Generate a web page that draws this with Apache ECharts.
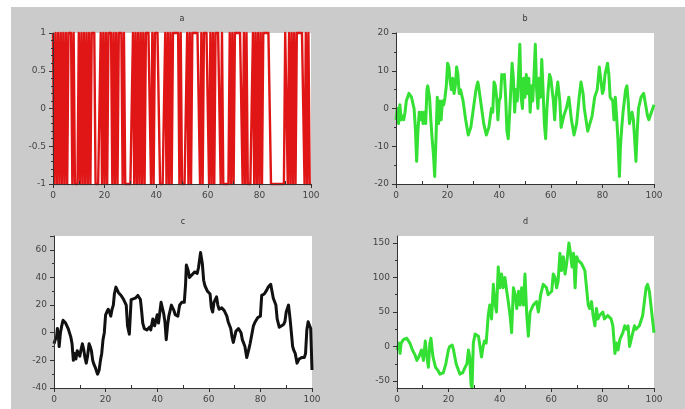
<!DOCTYPE html>
<html><head><meta charset="utf-8">
<script src="https://cdn.jsdelivr.net/npm/echarts@6/dist/echarts.min.js"></script>
<style>html,body{margin:0;padding:0;background:#fff}#c{width:685px;height:409px}</style>
</head><body><div id="c"></div>
<script>
// ---- data ----
const titles = ['a', 'b', 'c', 'd'];
const xTicks = [0, 20, 40, 60, 80, 100];
const dTicks = [-50, 0, 50, 100, 150];
const dMinorTicks = [-25, 25, 75, 125];

// series a: sampled every 0.5 from x = 0 to 100
const aStep = 0.5;
const aY = [
 1,-1,1,-1,1,-1,1,-1,1,-1,1,-1,
 1,1,1,-1,1,
 -1,-1,-1,
 1,-1,1,-1,1,-1,1,-1,1,-1,
 1,1,1,
 -1,-1,-1,-1,
 1,-1,1,-1,1,-1,
 1,1,1,
 -1,1,-1,1,-1,
 1,1,1,
 -1,1,-1,
 -1,-1,-1,-1,-1,
 1,-1,1,-1,1,-1,1,-1,1,-1,
 1,1,1,1,
 -1,1,-1,1,
 1,1,1,-1,-1,-1,-1,
 1,-1,1,-1,1,-1,
 1,1,1,1,1,
 -1,1,-1,
 -1,-1,-1,
 1,-1,1,-1,
 1,1,1,1,1,1,
 -1,1,-1,
 1,1,1,1,
 -1,1,-1,1,-1,
 1,1,1,1,
 -1,1,-1,
 -1,-1,-1,-1,
 1,-1,1,-1,
 1,1,1,1,1,1,
 -1,1,-1,1,-1,
 -1,-1,-1,
 1,-1,1,-1,1,-1,1,-1,
 1,1,1,1,1,1,
 -1,-1,-1,-1,-1,-1,-1,-1,-1,-1,-1,
 1,1,
 -1,1,-1,1,-1,1,-1,1,
 1,1,1,1,1,
 -1,1,-1,1,-1,-1];

const bX = [0,0.5,1,1.5,2,2.5,3,3.5,4,5,5.5,6,7,7.5,8,8.5,9,9.5,10,10.5,11,11.5,12,12.3,13,13.5,14,14.5,15,15.5,16,16.5,17,17.5,18,18.5,19,19.5,20,20.5,21,21.5,22,22.5,23,23.5,24,24.5,25,26,27,28,29,30,31,31.7,32,33,34,35,36,37,37.5,38,38.5,39,39.5,40,40.5,41,41.5,42,42.5,43,43.5,44,44.5,45,45.5,46,46.5,47,47.5,48,48.5,49,49.5,50,50.5,51,51.5,52,52.5,53,53.5,54,54.5,55,55.5,56,56.5,57,57.5,58,58.5,59,59.5,60,61,61.5,62,62.7,63.5,64,65,66,67,68,69,70,71,71.7,72.5,73,74.3,75,76,77,78,78.8,79.5,80,80.5,81,82,82.5,83,84,84.5,85,85.5,86,86.6,87,87.5,88,89,89.5,90,90.5,91,91.5,92,92.5,93,93.5,94,95,96,96.5,97,97.5,98,99,100];
const bY = [-3,0,-4,1,-3,-2,-3,-1,2,4,4,3,0,-5,-14,-6,-1,-3,-1,-4,-1,-4,5,6,3,-3,-8,-12,-18,-8,3,-4,2,-3,2,1,3,6,12,11,7,5,8,4,6,11,9,4,5,2,-3,-7,-5,0,5,7,6,1,-4,-7,-5,0,-1,7,6,3,-3,2,3,9,8,9,3,-6,-8,-2,5,12,8,-1,5,2,9,17,3,0,8,3,9,4,8,-1,6,2,9,17,5,0,8,3,13,5,-4,-8,0,5,9,8,2,-3,3,7,2,-5,-2,0,3,-3,-7,-4,3,7,4,0,-6,-6,-2,3,5,11,7,4,5,9,12,9,3,2,-3,3,-2,-8,-18,-10,-5,-1,5,6,2,-4,-2,-1,-3,-8,-14,-6,0,3,4,4,0,-2,-3,-1,1];

const cX = [0,0.5,1,1.3,1.7,2,2.5,3,3.5,4.5,5.5,6,6.5,7,7.5,8,8.5,9,9.5,10,10.5,11,11.5,12,12.5,13,13.6,14,14.5,15,15.5,16,16.5,16.9,17.5,18,18.5,19,19.5,20,20.5,21,21.5,22,22.5,23,23.4,24,24.5,25,26,27,27.5,28,28.5,29.2,29.9,30.5,31.5,32.5,33,33.5,34,34.4,35,36,37,37.5,38.3,39,39.5,40,40.5,41.5,42,42.5,43,43.5,44,44.5,45.5,46.5,47,48,48.7,49.5,50.5,51,51.3,52,52.5,53.5,54.5,55.5,56,56.8,57.5,58,58.5,59.5,60.5,61,61.5,62,63,63.5,64,65,66,67,67.5,68.5,69,69.5,70.5,71.5,72.5,73,74,74.7,75.5,76,77.3,78,79,80,80.5,81.5,82.5,83,84,84.5,85,86,86.5,87.3,88,89,89.5,90,90.9,91.5,92,92.5,93,93.5,94.2,95,96,97,97.5,98,98.5,99,99.5,100];
const cY = [-8,-5,-3,3,-2,-10,0,5,9,7,3,2,-3,-8,-20,-15,-19,-13,-15,-17,-12,-8,-12,-18,-22,-17,-8,-10,-13,-20,-23,-25,-28,-30,-27,-20,-15,-5,0,13,15,17,15,12,17,20,28,33,31,29,27,24,22,20,5,-1,24,24,25,27,26,24,15,7,3,2,4,2,10,5,9,13,7,22,18,14,8,-5,5,12,20,16,13,12,20,22,22,35,49,45,40,42,44,43,47,58,50,38,34,30,28,18,15,22,26,20,17,18,16,12,8,3,-3,-7,1,3,0,-5,-10,-18,-12,-8,5,8,11,12,27,28,31,33,35,30,25,20,10,4,5,6,8,15,20,10,0,-10,-13,-15,-22,-19,-18,-18,-15,2,8,8,3,-27];

const dX = [0,0.5,0.8,1.2,1.6,2.5,3.8,5,6,7,7.7,8.5,9.5,10.3,11,11.5,12.2,12.8,13.2,14,15,16,16.7,18,19,20,20.5,21.5,22,23,24,24.5,25.5,26.5,27.2,27.8,28.3,28.8,29.2,29.7,30.4,31.7,32.3,32.9,33.5,34,34.7,35.5,36.1,36.8,37.5,38,38.7,39.4,40,40.7,41.3,42,42.7,43.3,44,44.6,45.3,46,46.6,47.3,47.9,48.5,49.2,49.8,50.5,51.1,51.8,53,54.3,55,55.9,56.9,58.2,58.8,60.2,60.8,61.5,62.1,62.7,63.4,64,64.7,65.4,66,66.9,67.5,68.1,68.7,69.3,69.9,70.5,71.8,73.1,74.4,75,75.7,76.3,77,77.6,78.2,78.8,80.1,80.7,82,83.3,84,84.8,85.4,86,86.7,87.9,88.6,89.3,89.9,90.5,91.1,92.4,93,94.3,95.6,96.9,97.5,98.2,98.8,100];
const dY = [-5,2,5,-10,5,10,12,5,-5,-12,-20,-15,-5,-20,8,-10,-30,5,12,-15,-30,-35,-40,-38,-25,-5,0,2,-5,-25,-35,-40,-38,-30,-25,-5,-15,-55,-60,5,18,15,0,-15,0,8,5,45,60,40,90,65,50,115,85,105,85,100,80,65,45,20,85,75,55,80,60,85,60,105,45,15,50,60,65,50,75,90,85,75,80,105,100,85,95,135,110,130,105,120,150,135,115,135,85,130,125,120,110,60,55,65,45,30,55,40,45,50,40,45,40,30,-10,5,-5,10,20,30,25,30,0,10,30,25,30,45,85,90,80,60,20];

const yRanges = [[-1, 1, 0.5, 5], [-20, 20, 10, 2], [-40, 70, 20, 2], [-60, 160, null, 0]];
const colors = ['#e01515', '#33e033', '#111111', '#33e033'];

// ---- layout ----
const grids = [
  {left: 53, top: 33, width: 258, height: 151},
  {left: 396, top: 33, width: 258, height: 151},
  {left: 54, top: 236, width: 258, height: 152},
  {left: 397, top: 236, width: 257, height: 152}
];
const seriesData = [
  [aY.map((v, k) => k * aStep), aY], [bX, bY], [cX, cY], [dX, dY]
];
const axisColor = '#333';
const lab = {fontSize: 9, color: '#444', fontFamily: 'DejaVu Sans'};

const option = {
  backgroundColor: '#fff',
  animation: false,
  grid: grids.map(g => Object.assign({show: true, backgroundColor: '#fff', borderWidth: 0}, g)),
  xAxis: [], yAxis: [], series: [],
  graphic: [
    {type: 'rect', z: -100, shape: {x: 11, y: 7, width: 674, height: 402}, style: {fill: '#cbcbcb'}, silent: true}
  ]
};
titles.forEach((t, i) => {
  const g = grids[i];
  option.graphic.push({type: 'text', z: 10, x: g.left + g.width / 2, y: g.top - 14,
    style: {text: t, textAlign: 'center', textVerticalAlign: 'middle', font: '8px DejaVu Sans', fill: '#333'}});
});

grids.forEach((g, i) => {
  option.xAxis.push({gridIndex: i, type: 'value', min: 0, max: 100, interval: 20, position: 'bottom', z: 4,
    axisLine: {onZero: false, lineStyle: {color: axisColor, width: 1}},
    axisTick: {length: 4, lineStyle: {color: axisColor}},
    axisLabel: Object.assign({margin: 7}, lab),
    splitLine: {show: false}});
  option.xAxis.push({gridIndex: i, type: 'value', min: 0, max: 100, interval: 20, position: 'bottom', z: 4,
    axisLine: {show: false, onZero: false}, axisTick: {show: false, inside: true}, axisLabel: {show: false},
    minorTick: {show: true, splitNumber: 2, length: 3, lineStyle: {color: axisColor}},
    splitLine: {show: false}});
  const r = yRanges[i];
  const y = {gridIndex: i, type: 'value', min: r[0], max: r[1], position: 'left', z: 4,
    axisLine: {show: true, onZero: false, lineStyle: {color: axisColor, width: 1}},
    axisTick: {show: true, length: 4, lineStyle: {color: axisColor}},
    axisLabel: Object.assign({margin: 7, showMaxLabel: i !== 2}, lab),
    splitLine: {show: false}};
  if (r[2]) {
    y.interval = r[2];
    y.minorTick = {show: true, splitNumber: r[3], length: 2, lineStyle: {color: axisColor}};
  } else {
    y.axisTick.customValues = dTicks;
    y.axisLabel.customValues = dTicks;
  }
  option.yAxis.push(y);
  if (!r[2]) {
    option.yAxis.push({gridIndex: i, type: 'value', min: r[0], max: r[1], position: 'left', z: 4,
      axisLine: {show: false, onZero: false}, axisLabel: {show: false}, splitLine: {show: false},
      axisTick: {show: true, length: 2, customValues: dMinorTicks, lineStyle: {color: axisColor}}});
  }
});

let yIdx = 0;
seriesData.forEach((sd, i) => {
  option.series.push({type: 'line', xAxisIndex: i * 2, yAxisIndex: yIdx, z: 3,
    data: sd[0].map((x, k) => [x, sd[1][k]]),
    showSymbol: false, symbol: 'none',
    lineStyle: {color: colors[i], width: i === 0 ? 2.4 : 3, join: 'round'},
    clip: i !== 0});
  yIdx += yRanges[i][2] ? 1 : 2;
});

const chart = echarts.init(document.getElementById('c'), null, {renderer: 'canvas'});
chart.setOption(option);
</script></body></html>
